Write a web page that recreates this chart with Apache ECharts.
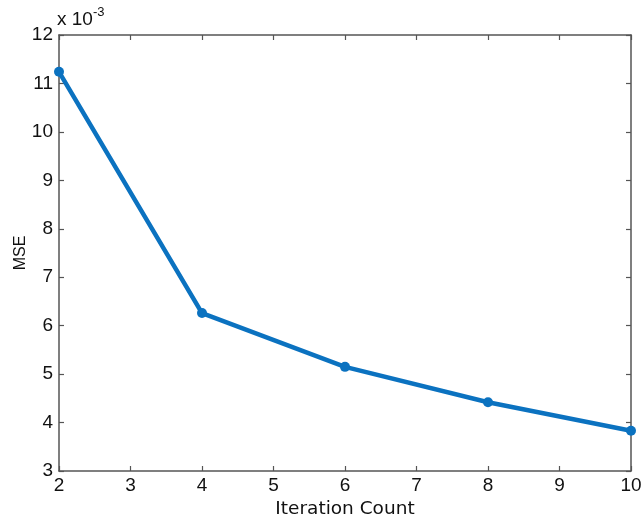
<!DOCTYPE html>
<html>
<head>
<meta charset="utf-8">
<script src="https://cdn.jsdelivr.net/npm/echarts@6/dist/echarts.min.js"></script>
<style>
  html, body { margin: 0; padding: 0; background: #fff; }
  #chart { width: 642px; height: 521px; }
</style>
</head>
<body>
<div id="chart"></div>
<script>
// Mean squared error (in units of 1e-3) against number of iterations
var iterations = [2, 4, 6, 8, 10];
var mseValues = [11.24, 6.26, 5.15, 4.42, 3.83];
var xTicks = [2, 3, 4, 5, 6, 7, 8, 9, 10];
var yTicks = [3, 4, 5, 6, 7, 8, 9, 10, 11, 12];

var axisColor = '#555555';
var tickFont = 'Liberation Sans, Arial, sans-serif';

var chart = echarts.init(document.getElementById('chart'), null, { renderer: 'canvas' });

function frameAxis(extra) {
  return Object.assign({
    axisLine: { show: true, onZero: false, lineStyle: { color: axisColor, width: 1.5 } },
    axisTick: { show: true, inside: true, length: 5, lineStyle: { color: axisColor, width: 1.2 } },
    splitLine: { show: false }
  }, extra);
}

chart.setOption({
  animation: false,
  backgroundColor: '#ffffff',
  grid: { left: 59, right: 11, top: 35, bottom: 50, containLabel: false, outerBoundsMode: 'none' },
  xAxis: [
    frameAxis({
      type: 'value', min: xTicks[0], max: xTicks[xTicks.length - 1], interval: 1,
      position: 'bottom',
      axisLabel: { color: '#111', fontFamily: tickFont, fontSize: 19, margin: 5 },
      name: 'Iteration Count', nameLocation: 'middle', nameGap: 29, nameMoveOverlap: false,
      nameTextStyle: { color: '#111', fontFamily: 'DejaVu Sans', fontSize: 18.5 }
    }),
    frameAxis({
      type: 'value', min: xTicks[0], max: xTicks[xTicks.length - 1], interval: 1,
      position: 'top', axisLabel: { show: false }
    })
  ],
  yAxis: [
    frameAxis({
      type: 'value', min: yTicks[0], max: yTicks[yTicks.length - 1], interval: 1,
      position: 'left',
      axisLabel: { color: '#111', fontFamily: tickFont, fontSize: 19, margin: 6 },
      name: 'MSE', nameLocation: 'middle', nameGap: 30, nameMoveOverlap: false,
      nameTextStyle: { color: '#111', fontFamily: tickFont, fontSize: 16 }
    }),
    frameAxis({
      type: 'value', min: yTicks[0], max: yTicks[yTicks.length - 1], interval: 1,
      position: 'right', axisLabel: { show: false }
    })
  ],
  graphic: [{
    type: 'text',
    left: 57, top: 6,
    style: {
      text: '{b|x 10}{s|-3}',
      rich: {
        b: { fontFamily: tickFont, fontSize: 19, fill: '#111', verticalAlign: 'bottom' },
        s: { fontFamily: tickFont, fontSize: 13, fill: '#111', verticalAlign: 'top', padding: [0, 0, 10, 0] }
      }
    }
  }],
  series: [{
    type: 'line',
    data: iterations.map(function (x, i) { return [x, mseValues[i]]; }),
    xAxisIndex: 0, yAxisIndex: 0,
    symbol: 'circle', symbolSize: 10,
    lineStyle: { color: '#0b72c0', width: 4.5 },
    itemStyle: { color: '#0b72c0' },
    clip: false
  }]
});
</script>
</body>
</html>
